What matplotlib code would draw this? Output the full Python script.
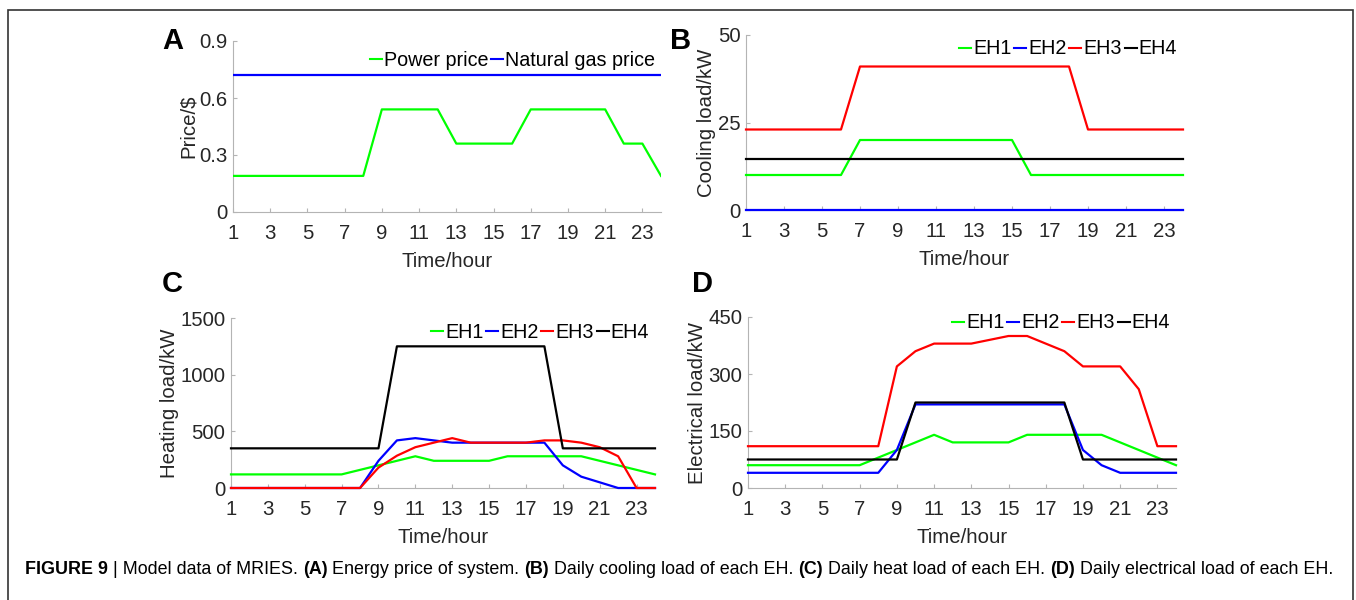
import matplotlib
matplotlib.use("Agg")
import matplotlib.pyplot as plt
from matplotlib.lines import Line2D

plt.rcParams["font.family"] = ["Liberation Sans", "DejaVu Sans"]

hours = list(range(1, 25))
xticks = [1, 3, 5, 7, 9, 11, 13, 15, 17, 19, 21, 23]

# (A) energy price
power_price = [0.19, 0.19, 0.19, 0.19, 0.19, 0.19, 0.19, 0.19, 0.54, 0.54, 0.54, 0.54,
               0.36, 0.36, 0.36, 0.36, 0.54, 0.54, 0.54, 0.54, 0.54, 0.36, 0.36, 0.19]
gas_price = [0.72, 0.72, 0.72, 0.72, 0.72, 0.72, 0.72, 0.72, 0.72, 0.72, 0.72, 0.72,
             0.72, 0.72, 0.72, 0.72, 0.72, 0.72, 0.72, 0.72, 0.72, 0.72, 0.72, 0.72]

# (B) cooling load
cool_eh1 = [10, 10, 10, 10, 10, 10, 20, 20, 20, 20, 20, 20,
            20, 20, 20, 10, 10, 10, 10, 10, 10, 10, 10, 10]
cool_eh2 = [0, 0, 0, 0, 0, 0, 0, 0, 0, 0, 0, 0,
            0, 0, 0, 0, 0, 0, 0, 0, 0, 0, 0, 0]
cool_eh3 = [23, 23, 23, 23, 23, 23, 41, 41, 41, 41, 41, 41,
            41, 41, 41, 41, 41, 41, 23, 23, 23, 23, 23, 23]
cool_eh4 = [14.6, 14.6, 14.6, 14.6, 14.6, 14.6, 14.6, 14.6, 14.6, 14.6, 14.6, 14.6,
            14.6, 14.6, 14.6, 14.6, 14.6, 14.6, 14.6, 14.6, 14.6, 14.6, 14.6, 14.6]

# (C) heating load
heat_eh1 = [120, 120, 120, 120, 120, 120, 120, 160, 200, 240, 280, 240,
            240, 240, 240, 280, 280, 280, 280, 280, 240, 200, 160, 120]
heat_eh2 = [0, 0, 0, 0, 0, 0, 0, 0, 240, 420, 440, 420,
            400, 400, 400, 400, 400, 400, 200, 100, 50, 0, 0, 0]
heat_eh3 = [0, 0, 0, 0, 0, 0, 0, 0, 180, 285, 360, 400,
            440, 400, 400, 400, 400, 420, 420, 400, 360, 280, 0, 0]
heat_eh4 = [350, 350, 350, 350, 350, 350, 350, 350, 350, 1250, 1250, 1250,
            1250, 1250, 1250, 1250, 1250, 1250, 350, 350, 350, 350, 350, 350]

# (D) electrical load
elec_eh1 = [60, 60, 60, 60, 60, 60, 60, 80, 100, 120, 140, 120,
            120, 120, 120, 140, 140, 140, 140, 140, 120, 100, 80, 60]
elec_eh2 = [40, 40, 40, 40, 40, 40, 40, 40, 100, 220, 220, 220,
            220, 220, 220, 220, 220, 220, 100, 60, 40, 40, 40, 40]
elec_eh3 = [110, 110, 110, 110, 110, 110, 110, 110, 320, 360, 380, 380,
            380, 390, 400, 400, 380, 360, 320, 320, 320, 260, 110, 110]
elec_eh4 = [75, 75, 75, 75, 75, 75, 75, 75, 75, 225, 225, 225,
            225, 225, 225, 225, 225, 225, 75, 75, 75, 75, 75, 75]

W, H = 1356, 600
fig = plt.figure(figsize=(W / 100, H / 100), dpi=100)

fs = 14.7


def box(l, r, t, b):
    return [l / W, 1 - b / H, (r - l) / W, (b - t) / H]


def style(ax, yticks, ylabels, ylabel):
    ax.set_xlim(1, 24)
    ax.set_ylim(yticks[0], yticks[-1])
    ax.set_xticks(xticks)
    ax.set_yticks(yticks)
    ax.set_yticklabels(ylabels)
    for s in ("top", "right"):
        ax.spines[s].set_visible(False)
    for s in ("left", "bottom"):
        ax.spines[s].set_color("#b4b4b4")
        ax.spines[s].set_linewidth(0.8)
    ax.tick_params(axis="both", direction="in", length=3, width=0.8,
                   color="#b4b4b4", labelsize=fs, labelcolor="#262626")
    ax.tick_params(axis="x", pad=8.5)
    ax.tick_params(axis="y", pad=4)
    ax.set_xlabel("Time/hour", fontsize=fs, color="#262626", labelpad=6.5)
    ax.set_ylabel(ylabel, fontsize=fs, color="#262626", labelpad=1)


def legend(ax, colors, labels, right, yc):
    handles = [Line2D([], [], color=c, lw=1.5) for c in colors]
    ax.legend(handles, labels, ncol=len(labels), frameon=False, fontsize=14.2,
              handlelength=0.6, handletextpad=0.1, columnspacing=0.15,
              borderpad=0, borderaxespad=0, loc="center right",
              bbox_to_anchor=(right / W, 1 - yc / H),
              bbox_transform=fig.transFigure)


lw = 1.6
eh_labels = ["EH1", "EH2", "EH3", "EH4"]
eh_colors = ["#00ff00", "#0000ff", "#ff0000", "black"]

# A
axA = fig.add_axes(box(233, 661, 41, 212))
axA.plot(hours, power_price, color="#00ff00", lw=lw, zorder=3)
axA.plot(hours, gas_price, color="#0000ff", lw=lw, zorder=3)
style(axA, [0, 0.3, 0.6, 0.9], ["0", "0.3", "0.6", "0.9"], "Price/$")
legend(axA, ["#00ff00", "#0000ff"], ["Power price", "Natural gas price"], 655, 60)

# B
axB = fig.add_axes(box(746, 1183, 35, 210))
for y, c in zip([cool_eh1, cool_eh2, cool_eh3, cool_eh4], eh_colors):
    axB.plot(hours, y, color=c, lw=lw, clip_on=False, zorder=3)
style(axB, [0, 25, 50], ["0", "25", "50"], "Cooling load/kW")
legend(axB, eh_colors, eh_labels, 1177, 49)

# C
axC = fig.add_axes(box(231, 655, 318, 488))
for y, c in zip([heat_eh1, heat_eh2, heat_eh3, heat_eh4], eh_colors):
    axC.plot(hours, y, color=c, lw=lw, clip_on=False, zorder=3)
style(axC, [0, 500, 1000, 1500], ["0", "500", "1000", "1500"], "Heating load/kW")
legend(axC, eh_colors, eh_labels, 649, 332)

# D
axD = fig.add_axes(box(748, 1176, 317, 488))
for y, c in zip([elec_eh1, elec_eh2, elec_eh3, elec_eh4], eh_colors):
    axD.plot(hours, y, color=c, lw=lw, clip_on=False, zorder=3)
style(axD, [0, 150, 300, 450], ["0", "150", "300", "450"], "Electrical load/kW")
legend(axD, eh_colors, eh_labels, 1170, 323)

# panel letters
for letter, x, y in (("A", 173, 41), ("B", 681, 41), ("C", 172, 284), ("D", 703, 284)):
    fig.text(x / W, 1 - y / H, letter, fontsize=21, fontweight="bold",
             ha="center", va="center")

# outer frame, bottom edge falls outside the picture
fig.add_artist(plt.Rectangle((8 / W, -0.05), (1353 - 8) / W, 1 - 10 / H + 0.05,
                             transform=fig.transFigure, fill=False,
                             edgecolor="#333333", lw=1.2))

# caption built piece by piece so bold and regular parts follow on
caption = [("FIGURE 9", True), (" | Model data of MRIES. ", False),
           ("(A)", True), (" Energy price of system. ", False),
           ("(B)", True), (" Daily cooling load of each EH. ", False),
           ("(C)", True), (" Daily heat load of each EH. ", False),
           ("(D)", True), (" Daily electrical load of each EH.", False)]
renderer = fig.canvas.get_renderer()
x = 25
for text, bold in caption:
    t = fig.text(x / W, 1 - 569 / H, text, fontsize=12.9,
                 fontweight="bold" if bold else "normal", va="center", ha="left")
    x += t.get_window_extent(renderer).width

fig.savefig("out.png", dpi=100)
